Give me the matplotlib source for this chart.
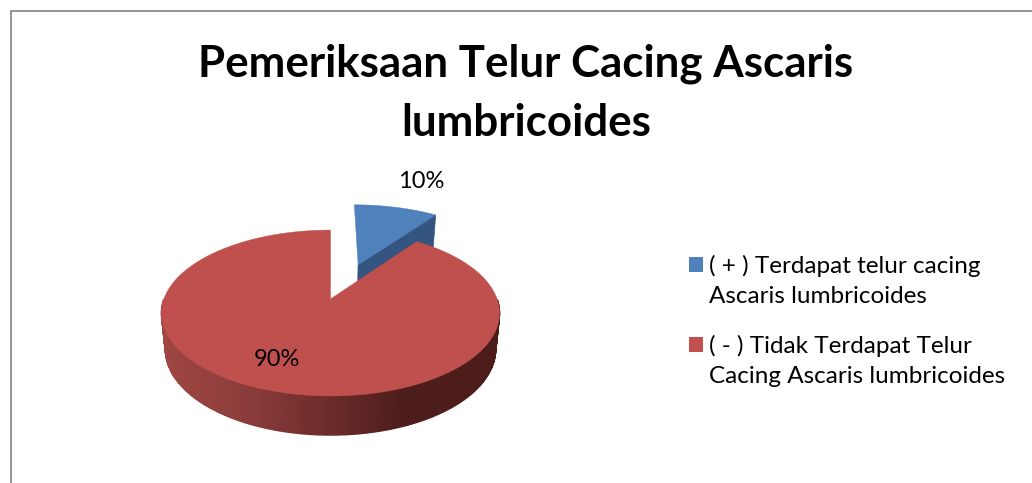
import matplotlib
matplotlib.use('Agg')
import matplotlib.pyplot as plt
import numpy as np

title_lines = ['Pemeriksaan Telur Cacing Ascaris', 'lumbricoides']
values = [10, 90]
pct_labels = ['10%', '90%']
legend_labels = ['( + ) Terdapat telur cacing\nAscaris lumbricoides',
                 '( - ) Tidak Terdapat Telur\nCacing Ascaris lumbricoides']
explode = [0.48, 0.0]

BLUE = '#4F81BD'
BLUE_DARK = '#34557F'
RED = '#C0504D'

plt.rcParams['font.family'] = ['Lato', 'DejaVu Sans']

# pie geometry in pixels, with a simple perspective
cx, cy = 330.5, 299
A, B, k = 166.6, 80.6, 0.169
D, m = 35.6, 0.088


def project(u, v, low=False):
    x = cx + A * u / (1 + k * v)
    y = cy - B * v / (1 + k * v)
    if low:
        # bottom of the pie is a little narrower than the top
        x = cx + (x - cx) * 0.977
        y = y + D / (1 + m * v)
    return x, y


def wall_color(x):
    stops_x = [161, 250, 330, 400, 500]
    r = np.interp(x, stops_x, [160, 138, 107, 78, 76])
    g = np.interp(x, stops_x, [70, 60, 43, 30, 28])
    b = np.interp(x, stops_x, [67, 58, 41, 28, 26])
    return (r / 255, g / 255, b / 255)


fig = plt.figure(figsize=(10.32, 4.83), dpi=100)
ax = fig.add_axes([0, 0, 1, 1])
ax.set_xlim(0, 1032)
ax.set_ylim(483, 0)
ax.axis('off')

# chart frame, right and bottom are cut off
ax.plot([1032, 10.5, 10.5], [10.5, 10.5, 483], color='#8A8A8A', lw=1.3)

fractions = np.array(values) / sum(values)
ends = np.cumsum(fractions) * 2 * np.pi
starts = ends - fractions * 2 * np.pi

# blue slice, exploded
mid = (starts[0] + ends[0]) / 2
u0, v0 = explode[0] * np.sin(mid) + 0.03, explode[0] * np.cos(mid)
t = np.linspace(starts[0], ends[0], 60)
uu, vv = u0 + np.sin(t), v0 + np.cos(t)

p1 = project(u0, v0)
p2 = project(uu[-1], vv[-1])
p3 = project(uu[-1], vv[-1], True)
p4 = project(u0, v0, True)
ax.fill([p1[0], p2[0], p3[0], p4[0]], [p1[1], p2[1], p3[1], p4[1]], color=BLUE_DARK, lw=0.5, zorder=2)
bx, by = project(uu, vv)
tip = project(u0, v0)
ax.fill(np.r_[tip[0], bx], np.r_[tip[1], by], color=BLUE, lw=0.3, zorder=3)

# red slice, wall first then top
t = np.linspace(starts[1], ends[1], 300)
uu, vv = np.sin(t), np.cos(t)
top_x, top_y = project(uu, vv)
low_x, low_y = project(uu, vv, True)
for i in range(len(t) - 1):
    # the far side of the wall is hidden behind the top
    if vv[i] > 0:
        continue
    xs = [top_x[i], top_x[i + 1], low_x[i + 1], low_x[i]]
    ys = [top_y[i], top_y[i + 1], low_y[i + 1], low_y[i]]
    col = wall_color((top_x[i] + top_x[i + 1]) / 2)
    ax.fill(xs, ys, color=col, lw=1.0, zorder=4)
tip = project(0, 0)
ax.fill(np.r_[tip[0], top_x], np.r_[tip[1], top_y], color=RED, lw=0.3, zorder=5)

# text
ax.text(526, 64, title_lines[0], ha='center', va='center', fontsize=31.6, fontweight='bold', color='black')
ax.text(526, 123, title_lines[1], ha='center', va='center', fontsize=31.6, fontweight='bold', color='black')
ax.text(421, 182, pct_labels[0], ha='center', va='center', fontsize=17, color='black', zorder=6)
ax.text(277, 360, pct_labels[1], ha='center', va='center', fontsize=17, color='black', zorder=6)

# legend
ax.fill([689, 703, 703, 689], [257, 257, 272, 272], color=BLUE, lw=0)
ax.fill([689, 703, 703, 689], [337, 337, 352, 352], color=RED, lw=0)
ax.text(709, 281, legend_labels[0], ha='left', va='center', fontsize=17.5, linespacing=1.52, color='black')
ax.text(709, 361, legend_labels[1], ha='left', va='center', fontsize=17.5, linespacing=1.52, color='black')

fig.savefig('out.png', dpi=100)
